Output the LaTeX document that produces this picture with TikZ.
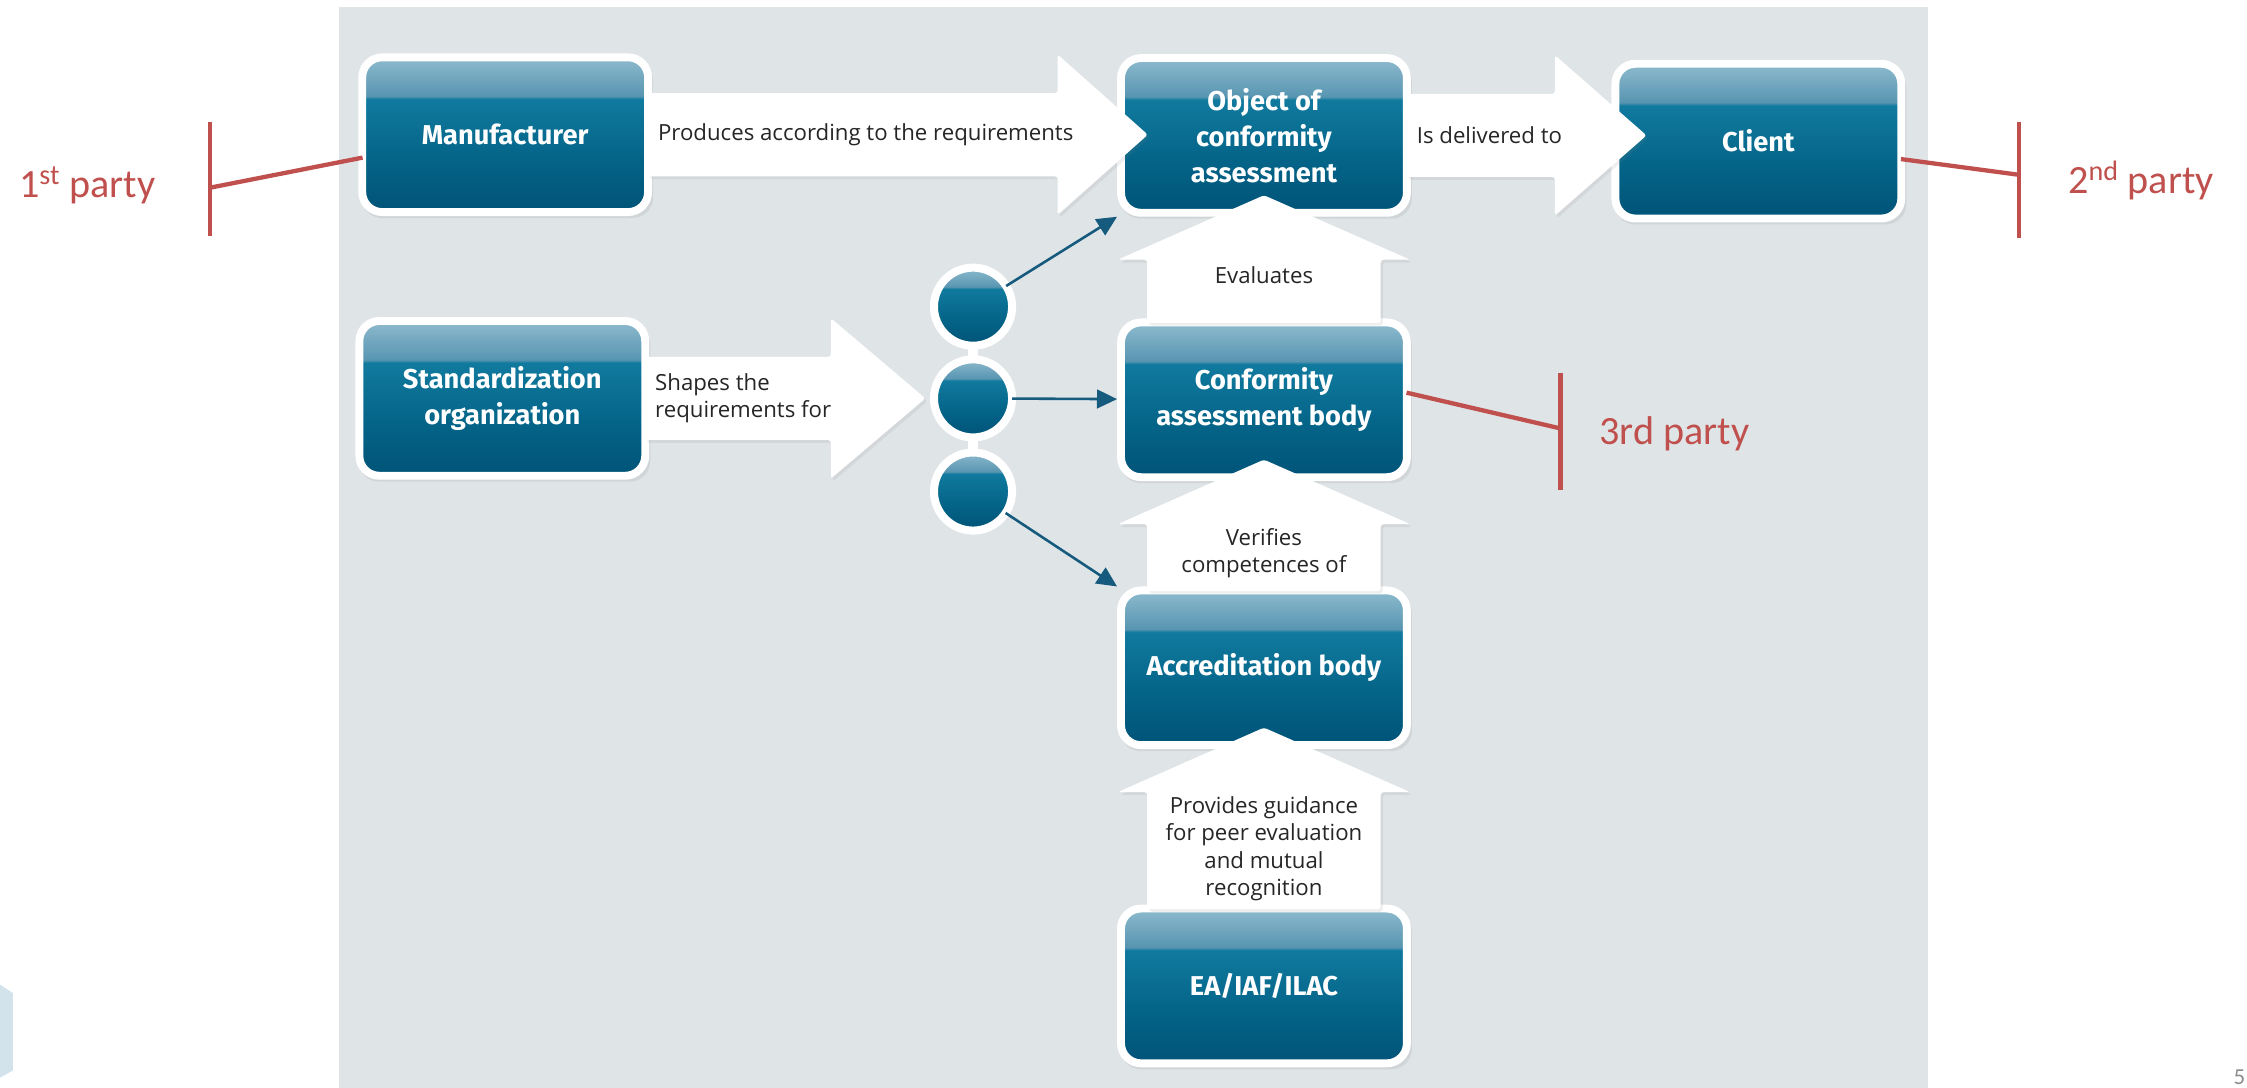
\documentclass[tikz,border=0pt]{standalone}
\usepackage{fontspec}
\setmainfont{Open Sans}
\newfontfamily\boxfont{Fira Sans}
\newfontfamily\partyfont{Carlito}
\usetikzlibrary{positioning}
\usetikzlibrary{calc}
\usetikzlibrary{arrows.meta}
\usetikzlibrary{shadows}

\definecolor{panelgray}{RGB}{223,228,231}
\definecolor{bxtop}{RGB}{142,187,206}
\definecolor{bxhi}{RGB}{88,149,177}
\definecolor{bxmid}{RGB}{16,122,158}
\definecolor{bxlow}{RGB}{4,100,136}
\definecolor{bxbot}{RGB}{0,83,120}
\definecolor{linkblue}{RGB}{22,90,125}
\definecolor{partyred}{RGB}{192,80,77}
\definecolor{decoblue}{RGB}{210,227,235}

\pgfdeclareverticalshading{glossy}{100bp}{color(0bp)=(bxbot); color(25bp)=(bxbot); color(42bp)=(bxlow); color(61.5bp)=(bxmid); color(62.5bp)=(bxhi); color(75bp)=(bxtop); color(100bp)=(bxtop)}

\begin{document}
\begin{tikzpicture}[x=1pt,y=-1pt,
    box/.style={rectangle, rounded corners=14pt, draw=white, line width=5.5pt,
      minimum width=199.5pt, minimum height=108pt, inner sep=0pt, shading=glossy,
      text=white, align=center, font=\boxfont\bfseries\fontsize{19}{25}\selectfont,
      drop shadow={opacity=.15, shadow xshift=1.5pt, shadow yshift=-3pt, shadow scale=1.02}},
    ball/.style={circle, draw=white, line width=5.6pt, minimum size=54.5pt,
      inner sep=0pt, outer sep=0pt, shading=glossy,
      drop shadow={opacity=.15, shadow xshift=1pt, shadow yshift=-2pt}},
    bigarr/.style={fill=white, rounded corners=2pt,
      drop shadow={opacity=.12, shadow xshift=1.5pt, shadow yshift=-2pt}},
    lbl/.style={font=\fontsize{15.5}{19}\selectfont, text=black!85, inner sep=0pt},
    conn/.style={draw=linkblue, line width=1.8pt},
    party/.style={draw=partyred, line width=3pt},
    partylbl/.style={font=\partyfont\fontsize{28}{32}\selectfont, text=partyred, inner sep=0pt},
    >={Triangle[length=14pt,width=13pt]}]
    \useasboundingbox (0,0) rectangle (1568,759);
    \fill[panelgray] (236.5,4.7) rectangle (1345.5,759);
    \fill[decoblue] (0,687) -- (9,693) -- (9,747) -- (0,752) -- cycle;
    \node[font=\partyfont\fontsize{16}{18}\selectfont, text=black!45, anchor=south east, inner sep=0pt] (pg) at (1567,757) {5};

    % boxes
    \node[box] (man) at (352.5,94) {Manufacturer};
    \node[box] (obj) at (882,94.5) {Object of\\conformity\\assessment};
    \node[box] (cli) at (1227,98.5) {Client};
    \node[box] (std) at (350.5,278) {Standardization\\organization};
    \node[box] (cab) at (882,279) {Conformity\\assessment body};
    \node[box] (acc) at (882,466) {Accreditation body};
    \node[box] (ea) at (882,688) {EA/IAF/ILAC};

    % circles
    \node[ball] (c1) at (679,214) {};
    \node[ball] (c2) at (679,278) {};
    \node[ball] (c3) at (679,343) {};
    \draw[white, line width=7pt] (c1.south) to (c2.north);
    \draw[white, line width=7pt] (c2.south) to (c3.north);

    % big arrows
    \fill[bigarr] ($(man.east)+(-3,-29)$) -- ($(man.east -| obj.west)+(-41.5,-29)$)
      -- ($(man.east -| obj.west)+(-41.5,-56)$) -- ($(man.east -| obj.west)+(21.5,0)$)
      -- ($(man.east -| obj.west)+(-41.5,56)$) -- ($(man.east -| obj.west)+(-41.5,29)$)
      -- ($(man.east)+(-3,29)$) -- cycle;
    \fill[bigarr] ($(obj.east)+(-3,-29)$) -- ($(obj.east -| cli.west)+(-39.5,-29)$)
      -- ($(obj.east -| cli.west)+(-39.5,-56)$) -- ($(obj.east -| cli.west)+(24.5,0)$)
      -- ($(obj.east -| cli.west)+(-39.5,56)$) -- ($(obj.east -| cli.west)+(-39.5,29)$)
      -- ($(obj.east)+(-3,29)$) -- cycle;
    \fill[bigarr] ($(std.east)+(-3,-29)$) -- ($(c2.west)+(-72,-29)$)
      -- ($(c2.west)+(-72,-56)$) -- ($(c2.west)+(-6,0)$)
      -- ($(c2.west)+(-72,56)$) -- ($(c2.west)+(-72,29)$)
      -- ($(std.east)+(-3,29)$) -- cycle;
    \fill[bigarr] ($(cab.north)+(-81.5,3)$) -- ($(obj.south)+(-81.5,30)$)
      -- ($(obj.south)+(-102,30)$) -- ($(obj.south)+(0,-15)$)
      -- ($(obj.south)+(102,30)$) -- ($(obj.south)+(81.5,30)$)
      -- ($(cab.north)+(81.5,3)$) -- cycle;
    \fill[bigarr] ($(acc.north)+(-81.5,3)$) -- ($(cab.south)+(-81.5,30)$)
      -- ($(cab.south)+(-102,30)$) -- ($(cab.south)+(0,-15)$)
      -- ($(cab.south)+(102,30)$) -- ($(cab.south)+(81.5,30)$)
      -- ($(acc.north)+(81.5,3)$) -- cycle;
    \fill[bigarr] ($(ea.north)+(-81.5,3)$) -- ($(acc.south)+(-81.5,30)$)
      -- ($(acc.south)+(-102,30)$) -- ($(acc.south)+(0,-15)$)
      -- ($(acc.south)+(102,30)$) -- ($(acc.south)+(81.5,30)$)
      -- ($(ea.north)+(81.5,3)$) -- cycle;

    % arrow labels
    \node[lbl, right=4pt of man] (prod) {Produces according to the requirements};
    \node[lbl, right=4pt of obj] (deliv) {Is delivered to};
    \node[lbl, align=left, right=4pt of std] (shape) {Shapes the\\requirements for};
    \node[lbl] (eval) at ($(cab.north)+(0,-30)$) {Evaluates};
    \node[lbl, align=center] (verif) at ($(acc.north)+(0,-23)$) {Verifies\\competences of};
    \node[lbl, align=center] (guide) at ($(ea.north)+(0,-39)$) {Provides guidance\\for peer evaluation\\and mutual\\recognition};

    % thin links
    \draw[conn, ->] (c1) to (obj.south west);
    \draw[conn, ->] (c2) to (cab);
    \draw[conn, ->] (c3) to (acc.north west);

    % parties
    \coordinate (p1) at (146.5,131);
    \coordinate (p2) at (1409,122);
    \coordinate (p3) at (1089,299);
    \draw[party] ($(p1)+(0,-46)$) -- ($(p1)+(0,34)$);
    \draw[party] ($(p2)+(0,-37)$) -- ($(p2)+(0,44)$);
    \draw[party] ($(p3)+(0,-39)$) -- ($(p3)+(0,43)$);
    \draw[party] (p1) to ($(man.west)+(3,16)$);
    \draw[party] ($(cli.east)+(-3,12.5)$) to (p2);
    \draw[party] ($(cab.east)+(-3,-5)$) to (p3);
    \node[partylbl, anchor=base east] (first) at ($(p1)+(-38,7)$) {1\textsuperscript{st} party};
    \node[partylbl, anchor=base west] (second) at ($(p2)+(34,13)$) {2\textsuperscript{nd} party};
    \node[partylbl, anchor=base west] (third) at ($(p3)+(27,11)$) {3rd party};
  \end{tikzpicture}
\end{document}
